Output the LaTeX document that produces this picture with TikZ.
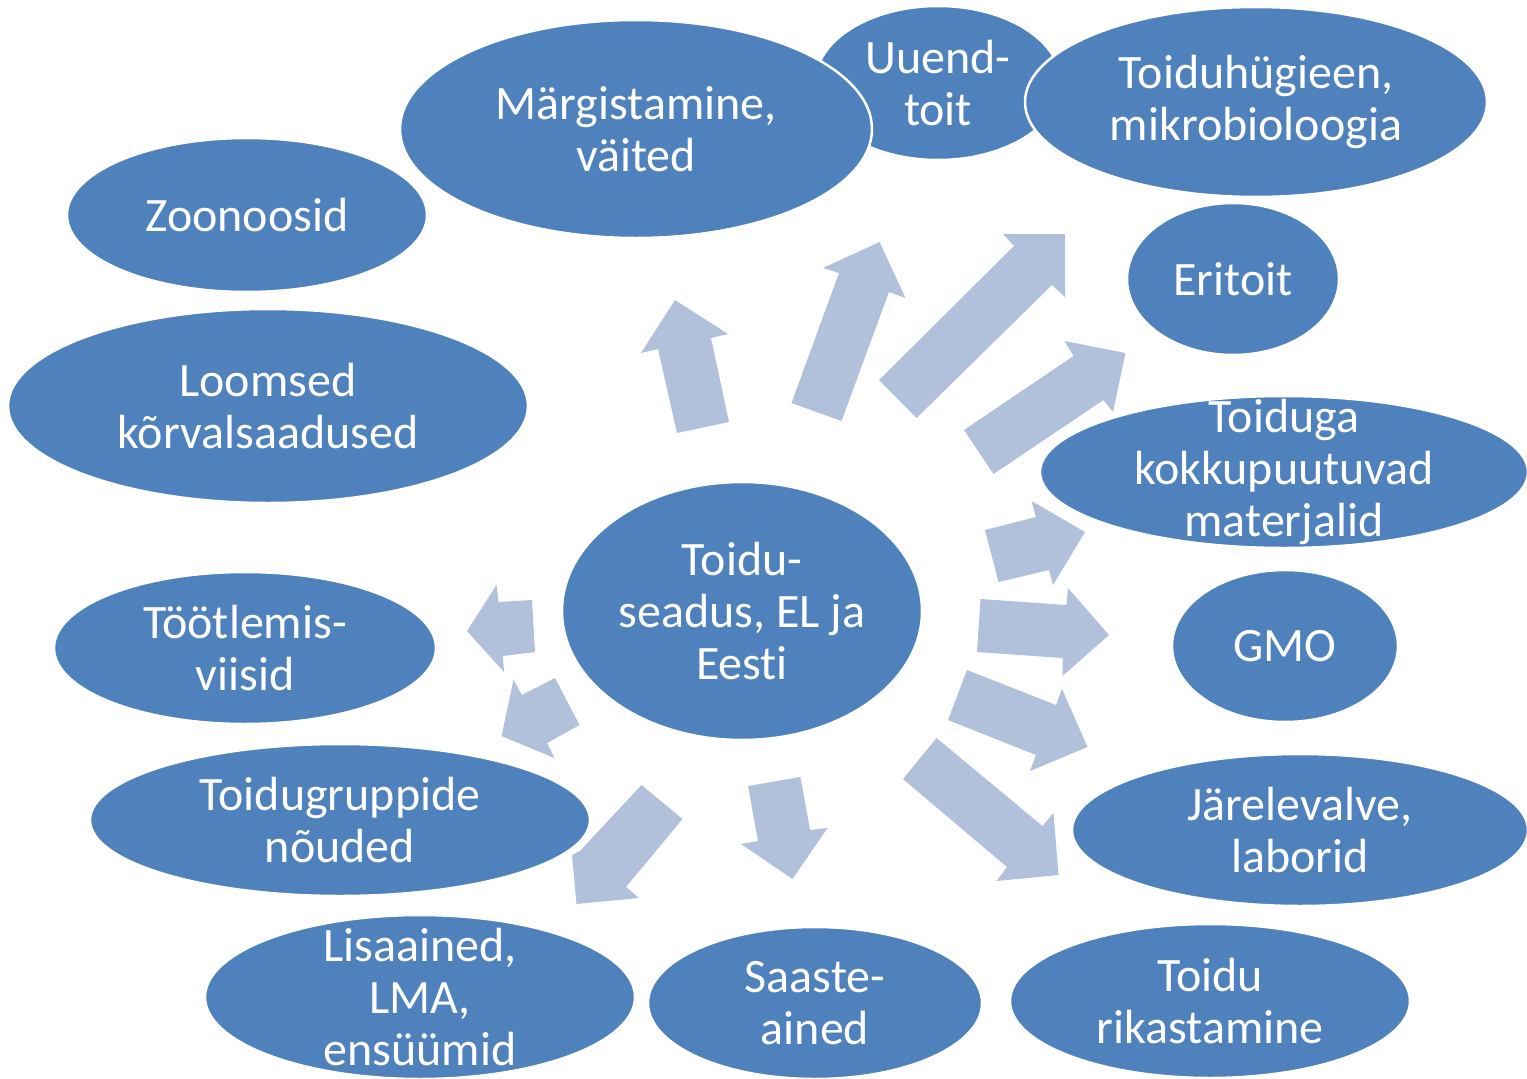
\documentclass[tikz,border=0pt]{standalone}
\usepackage{fontspec}
\setmainfont{Carlito}[Ligatures={NoCommon,NoContextual}]
\usetikzlibrary{shapes.geometric}
\definecolor{blobblue}{RGB}{79,129,189}
\definecolor{arrowblue}{RGB}{177,193,220}
\tikzset{
  blob/.style={ellipse, fill=blobblue, draw=white, line width=2.5pt, inner sep=0pt},
  lbl/.style={text=white, align=center, inner sep=0pt, font=\fontsize{48}{52}\selectfont},
  blockarrow/.style={fill=arrowblue, draw=none}
}
\newcommand{\blobnode}[6]{% name, x, y, rx, ry, text
  \node[blob, minimum width=#4*2pt, minimum height=#5*2pt] (#1) at (#2,#3) {};
  \node[lbl] (#1t) at (#1) {#6};
}
\begin{document}
\begin{tikzpicture}[x=1pt,y=-1pt]
\useasboundingbox (0,0) rectangle (1527,1079);
\fill[white] (0,0) rectangle (1527,1079);

% block arrows
\fill[blockarrow] (677,433) -- (658,349) -- (641,353) -- (675,300) -- (728,334) -- (711,338) -- (729,422) -- cycle;
\fill[blockarrow] (791.5,403) -- (839,273) -- (823,268) -- (879.5,242) -- (905.5,298) -- (889,292) -- (841.5,421) -- cycle;
\fill[blockarrow] (879,380) -- (1014,246) -- (1003,234) -- (1065,234) -- (1065,297) -- (1052,285) -- (916.5,418) -- cycle;
\fill[blockarrow] (964,430) -- (1073.5,356) -- (1064.5,341) -- (1125.5,353) -- (1113,412) -- (1103.5,400) -- (993.5,474) -- cycle;
\fill[blockarrow] (985,530) -- (1036,517) -- (1031.5,501) -- (1085,532) -- (1053,585) -- (1049,570) -- (998.5,582) -- cycle;
\fill[blockarrow] (980.5,599) -- (1066.5,605) -- (1068,588) -- (1109,635) -- (1062.5,676) -- (1062.5,658) -- (977,652) -- cycle;
\fill[blockarrow] (967,670) -- (1056,705) -- (1062,689) -- (1087.5,747) -- (1030,771) -- (1036,755) -- (948,720) -- cycle;
\fill[blockarrow] (936.5,738) -- (1042.5,826) -- (1053.5,813) -- (1058.5,875) -- (996.5,881) -- (1007,867) -- (903,779) -- cycle;
\fill[blockarrow] (800.5,777) -- (810,830) -- (827.5,828) -- (792.5,879) -- (741,844) -- (758,841) -- (748,786) -- cycle;
\fill[blockarrow] (682.5,819) -- (626,887) -- (639,898) -- (576.5,904) -- (572,855) -- (580,851) -- (641.5,785) -- cycle;
\fill[blockarrow] (555,678) -- (522,695) -- (513.5,680) -- (501.5,736) -- (554.5,758) -- (547,743) -- (579.5,725) -- cycle;
\fill[blockarrow] (532,600) -- (498.5,602) -- (496.5,585) -- (467,631) -- (504,672) -- (503,656) -- (535,652) -- cycle;

% ellipses
\blobnode{uuend}{938}{83}{123}{77}{Uuend-\\toit}
\blobnode{marg}{636}{129}{236}{109}{Märgistamine,\\väited}
\blobnode{hyg}{1256}{102}{231}{95}{Toiduhügieen,\\mikrobioloogia}
\blobnode{zoo}{247}{215}{180}{77}{Zoonoosid}
\blobnode{loom}{268}{406}{260}{97}{Loomsed\\kõrvalsaadused}
\blobnode{eri}{1233}{279}{106}{76}{Eritoit}
\blobnode{kok}{1284}{472}{244}{76}{Toiduga\\kokkupuutuvad\\materjalid}
\blobnode{gmo}{1285}{646}{113}{76}{GMO}
\blobnode{jar}{1300}{830}{228}{76}{Järelevalve,\\laborid}
\blobnode{rik}{1210}{1001}{200}{77}{Toidu\\rikastamine}
\blobnode{saa}{815}{1003}{167}{76}{Saaste-\\ained}
\blobnode{lis}{420}{997}{215}{82}{Lisaained,\\LMA,\\ensüümid}
\blobnode{grp}{340}{820}{250}{76}{Toidugruppide\\nõuded}
\blobnode{too}{245}{648}{191}{76}{Töötlemis-\\viisid}
\blobnode{ctr}{742}{611}{180}{129}{Toidu-\\seadus, EL ja\\Eest\kern0pt i}
\end{tikzpicture}
\end{document}
